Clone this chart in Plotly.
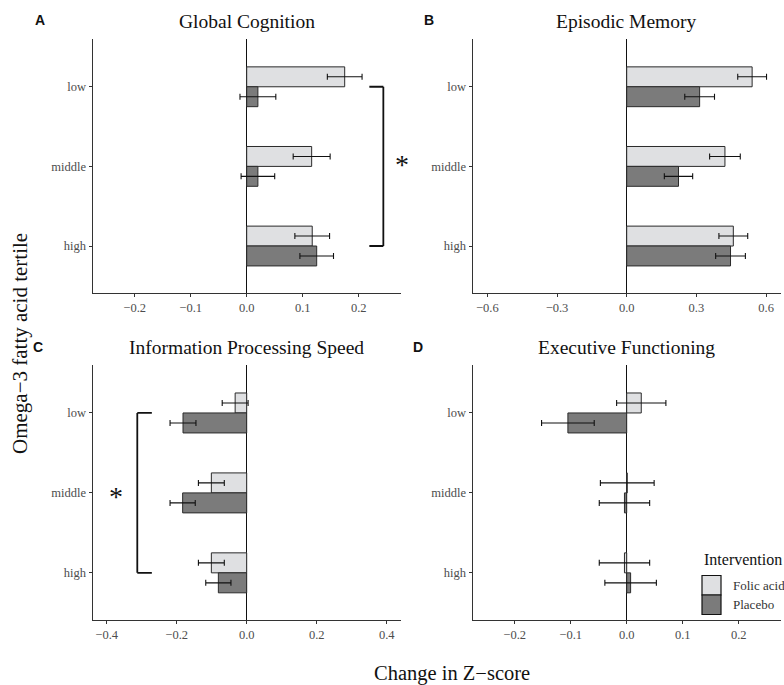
import plotly.graph_objects as go

W, H = 784, 685

tertiles = ["low", "middle", "high"]
groups = ["Folic acid", "Placebo"]

# Panel A: Global Cognition
gc_folic = [0.175, 0.116, 0.117]
gc_folic_err = [0.031, 0.033, 0.031]
gc_placebo = [0.020, 0.020, 0.125]
gc_placebo_err = [0.032, 0.030, 0.030]

# Panel B: Episodic Memory
em_folic = [0.540, 0.423, 0.459]
em_folic_err = [0.062, 0.066, 0.062]
em_placebo = [0.314, 0.223, 0.447]
em_placebo_err = [0.064, 0.061, 0.064]

# Panel C: Information Processing Speed
ips_folic = [-0.033, -0.101, -0.101]
ips_folic_err = [0.037, 0.037, 0.037]
ips_placebo = [-0.182, -0.183, -0.081]
ips_placebo_err = [0.037, 0.036, 0.036]

# Panel D: Executive Functioning
ef_folic = [0.026, 0.001, -0.004]
ef_folic_err = [0.044, 0.048, 0.045]
ef_placebo = [-0.105, -0.004, 0.007]
ef_placebo_err = [0.047, 0.045, 0.046]

panel_titles = ["Global Cognition", "Episodic Memory",
                "Information Processing Speed", "Executive Functioning"]
panel_letters = ["A", "B", "C", "D"]
x_ticks = [[-0.2, -0.1, 0.0, 0.1, 0.2], [-0.6, -0.3, 0.0, 0.3, 0.6],
           [-0.4, -0.2, 0.0, 0.2, 0.4], [-0.2, -0.1, 0.0, 0.1, 0.2]]
x_ranges = [[-0.275, 0.275], [-0.663, 0.663], [-0.44, 0.44], [-0.275, 0.275]]

FOLIC_COLOR = "#dfe0e2"
PLACEBO_COLOR = "#7b7b7b"
SERIF = "'Liberation Serif', 'Times New Roman', serif"
SANS = "'Liberation Sans', Arial, sans-serif"


def px(x):
    return x / W


def py(y):
    return 1 - y / H


# panel pixel boxes (left, right, top, bottom)
boxes = [(92.7, 400.7, 39, 293), (472.7, 780.7, 39, 293),
         (92.7, 400.7, 365, 620), (472.7, 780.7, 365, 620)]

data = [
    (gc_folic, gc_folic_err, gc_placebo, gc_placebo_err),
    (em_folic, em_folic_err, em_placebo, em_placebo_err),
    (ips_folic, ips_folic_err, ips_placebo, ips_placebo_err),
    (ef_folic, ef_folic_err, ef_placebo, ef_placebo_err),
]

fig = go.Figure()
layout = dict(
    width=W, height=H, margin=dict(l=0, r=0, t=0, b=0),
    paper_bgcolor="white", plot_bgcolor="white",
    barmode="overlay", showlegend=False,
    font=dict(family=SERIF, size=13, color="#4d4d4d"),
)

for i, (fv, fe, pv, pe) in enumerate(data):
    n = i + 1
    xa = "x" if n == 1 else f"x{n}"
    ya = "y" if n == 1 else f"y{n}"
    fig.add_trace(go.Bar(
        x=fv, y=tertiles, orientation="h", name=groups[0],
        width=0.25, offset=0.0, xaxis=xa, yaxis=ya,
        marker=dict(color=FOLIC_COLOR, line=dict(color="#2a2a2a", width=1)),
        error_x=dict(type="data", array=fe, color="#111111", thickness=1.1, width=3),
    ))
    fig.add_trace(go.Bar(
        x=pv, y=tertiles, orientation="h", name=groups[1],
        width=0.25, offset=-0.25, xaxis=xa, yaxis=ya,
        marker=dict(color=PLACEBO_COLOR, line=dict(color="#2a2a2a", width=1)),
        error_x=dict(type="data", array=pe, color="#111111", thickness=1.1, width=3),
    ))
    l, r, t, b = boxes[i]
    xkey = "xaxis" if n == 1 else f"xaxis{n}"
    ykey = "yaxis" if n == 1 else f"yaxis{n}"
    layout[xkey] = dict(
        domain=[px(l), px(r)], anchor=ya, range=x_ranges[i],
        tickvals=x_ticks[i], ticktext=[f"{v:.1f}".replace("-", "\u2212") for v in x_ticks[i]],
        showgrid=False, zeroline=True, zerolinecolor="#111111", zerolinewidth=1.3,
        showline=True, linecolor="#333333", linewidth=1.3,
        ticks="outside", ticklen=3, tickcolor="#333333", tickwidth=1,
        tickfont=dict(family=SERIF, size=12.5, color="#4d4d4d"), fixedrange=True,
    )
    layout[ykey] = dict(
        domain=[py(b), py(t)], anchor=xa, type="category",
        categoryorder="array", categoryarray=["high", "middle", "low"],
        range=[-0.59, 2.6], showgrid=False, zeroline=False,
        showline=True, linecolor="#333333", linewidth=1.3,
        ticks="outside", ticklen=3, tickcolor="#333333", tickwidth=1,
        tickfont=dict(family=SERIF, size=12.5, color="#4d4d4d"), fixedrange=True,
    )

fig.update_layout(**layout)

annotations = []
shapes = []

# Panel titles and letters
letter_pos = [(40, 20), (429, 20), (38, 347), (418, 347)]
title_y = [21, 21, 348, 348]
for i in range(4):
    l, r, t, b = boxes[i]
    annotations.append(dict(
        x=px((l + r) / 2), y=py(title_y[i]), xref="paper", yref="paper",
        text=panel_titles[i], showarrow=False, xanchor="center", yanchor="middle",
        font=dict(family=SERIF, size=19.5, color="#111111")))
    annotations.append(dict(
        x=px(letter_pos[i][0]), y=py(letter_pos[i][1]), xref="paper", yref="paper",
        text="<b>" + panel_letters[i] + "</b>", showarrow=False,
        xanchor="center", yanchor="middle",
        font=dict(family=SANS, size=14, color="#111111")))

# Axis titles
annotations.append(dict(
    x=px(452), y=py(673), xref="paper", yref="paper", text="Change in Z\u2212score",
    showarrow=False, xanchor="center", yanchor="middle",
    font=dict(family=SERIF, size=20.5, color="#111111")))
annotations.append(dict(
    x=px(20), y=py(344), xref="paper", yref="paper", text="Omega\u22123 fatty acid tertile",
    showarrow=False, xanchor="center", yanchor="middle", textangle=-90,
    font=dict(family=SERIF, size=21, color="#111111")))

# Significance brackets
def bracket(xref, yref, xv, xtip):
    sh = []
    sh.append(dict(type="line", xref=xref, yref=yref, x0=xv, x1=xv, y0=2, y1=0,
                   line=dict(color="#111111", width=1.8)))
    sh.append(dict(type="line", xref=xref, yref=yref, x0=xtip, x1=xv, y0=2, y1=2,
                   line=dict(color="#111111", width=1.8)))
    sh.append(dict(type="line", xref=xref, yref=yref, x0=xtip, x1=xv, y0=0, y1=0,
                   line=dict(color="#111111", width=1.8)))
    return sh

shapes += bracket("x", "y", 0.244, 0.219)
shapes += bracket("x3", "y3", -0.3126, -0.271)
# asterisk of panel A sits just outside the panel's x-range -> paper coords
annotations.append(dict(x=px(402), y=py(164), xref="paper", yref="paper", text="*",
                        showarrow=False, xanchor="center", yanchor="middle",
                        font=dict(family=SERIF, size=28, color="#111111")))
annotations.append(dict(x=-0.373, y=1, xref="x3", yref="y3", text="*", showarrow=False,
                        xanchor="center", yanchor="middle", yshift=-4,
                        font=dict(family=SERIF, size=28, color="#111111")))

# Manual legend
annotations.append(dict(x=px(702), y=py(559), xref="paper", yref="paper", text="Intervention",
                        showarrow=False, xanchor="left", yanchor="middle",
                        font=dict(family=SERIF, size=16, color="#111111")))
leg_colors = [FOLIC_COLOR, PLACEBO_COLOR]
leg_rows = [(575.5, 595), (595, 614.5)]
for k in range(2):
    y0, y1 = leg_rows[k]
    shapes.append(dict(type="rect", xref="paper", yref="paper",
                       x0=px(702), x1=px(721), y0=py(y1), y1=py(y0),
                       fillcolor=leg_colors[k], line=dict(color="#111111", width=1.2)))
    annotations.append(dict(x=px(730.5), y=py((y0 + y1) / 2), xref="paper", yref="paper",
                            text=groups[k], showarrow=False, xanchor="left", yanchor="middle",
                            font=dict(family=SERIF, size=13, color="#333333")))

fig.update_layout(annotations=annotations, shapes=shapes)
fig.write_html(
    "out.html",
    config={"displayModeBar": False},
    post_script="document.body.style.margin='0px';document.body.style.overflow='hidden';",
)
